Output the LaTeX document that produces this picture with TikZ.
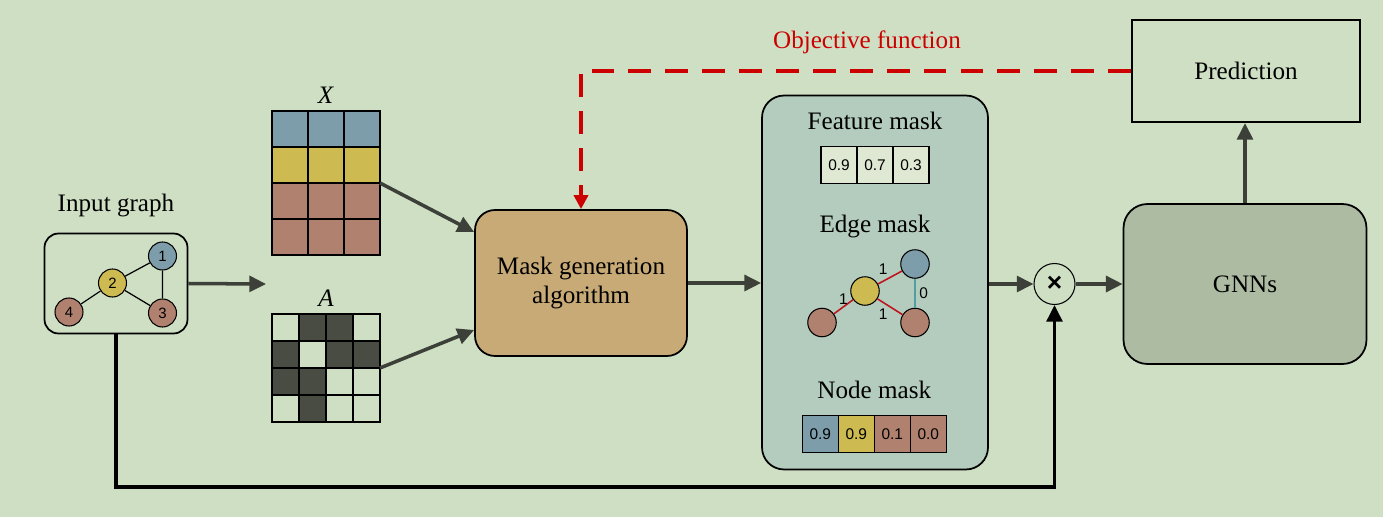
\documentclass[tikz,border=0pt]{standalone}
\usepackage{fontspec}
\setmainfont{Liberation Serif}
\setsansfont{Liberation Sans}
\usepackage{tikz}
\usetikzlibrary{positioning,arrows.meta,calc}
\usepackage{xcolor}

\definecolor{bgGreen}{RGB}{206,223,196}
\definecolor{panelGreen}{RGB}{180,204,189}
\definecolor{genTan}{RGB}{200,170,118}
\definecolor{gnnGreen}{RGB}{173,187,163}
\definecolor{nodeBlue}{RGB}{125,157,170}
\definecolor{nodeYellow}{RGB}{205,186,80}
\definecolor{nodeBrown}{RGB}{176,129,111}
\definecolor{cellDark}{RGB}{72,76,66}
\definecolor{featCell}{RGB}{222,232,210}
\definecolor{arrowGray}{RGB}{60,64,56}
\definecolor{objRed}{RGB}{204,0,0}
\definecolor{edgeRed}{RGB}{190,20,30}
\definecolor{edgeTeal}{RGB}{80,160,160}

\begin{document}
\begin{tikzpicture}[
  x=0.02cm, y=-0.02cm,
  flow/.style={draw=arrowGray, line width=2pt, -{Triangle[length=9.5pt,width=9pt]}},
  loopline/.style={draw=black, line width=1.9pt, -{Triangle[length=9.5pt,width=9pt]}},
  objline/.style={draw=objRed, line width=2pt, dash pattern=on 13pt off 8pt,
                  -{Triangle[length=8pt,width=8pt]}},
  title/.style={inner sep=0pt, font=\fontsize{14.3}{17}\selectfont},
  bigbox/.style={draw, line width=1pt, align=center, font=\fontsize{14.3}{17}\selectfont},
  gnode/.style={circle, draw, line width=0.6pt, minimum size=0.56cm, inner sep=0pt,
                font=\sffamily\fontsize{8.5}{10}\selectfont},
  maskcell/.style={draw, line width=0.6pt, outer sep=0pt, inner sep=0pt,
                   minimum width=0.72cm, minimum height=0.73cm,
                   font=\sffamily\fontsize{8.8}{10}\selectfont},
  elabel/.style={inner sep=1pt, text=black, font=\sffamily\fontsize{8.8}{10}\selectfont},
]
  \fill[bgGreen] (0,0) rectangle (1383,517);
  \useasboundingbox (0,0) rectangle (1383,517);

  % Input graph
  \node[draw, line width=1pt, rounded corners=0.28cm, minimum width=2.86cm,
        minimum height=2cm] (inbox) at (116,283.5) {};
  \node[title, above=0.3cm of inbox] {Input graph};
  \node[gnode, fill=nodeBlue]   (g1) at (162.5,256) {1};
  \node[gnode, fill=nodeYellow] (g2) at (112.5,283) {2};
  \node[gnode, fill=nodeBrown]  (g3) at (162.5,313) {3};
  \node[gnode, fill=nodeBrown]  (g4) at (69,312) {4};
  \draw[line width=0.7pt] (g1) -- (g2) (g2) -- (g4) (g2) -- (g3) (g1) -- (g3);

  % Feature matrix X and adjacency A
  \node[minimum width=2.16cm, minimum height=2.88cm, inner sep=0pt, outer sep=0pt] (Xm) at (326,183) {};
  \foreach \c [count=\r from 0] in {nodeBlue,nodeYellow,nodeBrown,nodeBrown}
    \foreach \k in {0,1,2}
      \draw[fill=\c, line width=0.6pt] (272+36*\k,111+36*\r) rectangle ++(36,36);
  \node[title, above=0.14cm of Xm] {\textit{X}};

  \node[minimum width=2.16cm, minimum height=2.16cm, inner sep=0pt, outer sep=0pt] (Am) at (326,368) {};
  \foreach \r in {0,...,3}
    \foreach \k in {0,...,3}
      \draw[fill=bgGreen, line width=0.6pt] (272+27*\k,314+27*\r) rectangle ++(27,27);
  \foreach \k/\r in {1/0,2/0,0/1,2/1,3/1,0/2,1/2,1/3}
    \draw[fill=cellDark, line width=0.6pt] (272+27*\k,314+27*\r) rectangle ++(27,27);
  \node[title, above=0.14cm of Am] {\textit{A}};

  % Mask generation
  \node[bigbox, fill=genTan, rounded corners=0.4cm, minimum width=4.24cm,
        minimum height=2.92cm] (gen) at (581,283) {Mask generation\\algorithm};

  % Mask panel
  \node[draw, line width=1pt, fill=panelGreen, rounded corners=0.44cm,
        minimum width=4.52cm, minimum height=7.48cm] (panel) at (875,282.5) {};

  \node[maskcell, fill=featCell] (f2) at (875,165) {0.7};
  \node[maskcell, fill=featCell, left=0pt of f2]  (f1) {0.9};
  \node[maskcell, fill=featCell, right=0pt of f2] (f3) {0.3};
  \node[title, above=0.33cm of f2] {Feature mask};

  \node[title] at (875,226) {Edge mask};
  \node[gnode, minimum size=0.57cm, fill=nodeBlue]   (e1) at (915,264) {};
  \node[gnode, minimum size=0.57cm, fill=nodeYellow] (e2) at (865,291) {};
  \node[gnode, minimum size=0.57cm, fill=nodeBrown]  (e3) at (915,322.5) {};
  \node[gnode, minimum size=0.57cm, fill=nodeBrown]  (e4) at (822,322.5) {};
  \draw[edgeRed, line width=0.9pt] (e2) -- node[elabel, above left=0pt] {1} (e1);
  \draw[edgeRed, line width=0.9pt] (e2) -- node[elabel, above=0pt] {1} (e4);
  \draw[edgeRed, line width=0.9pt] (e2) -- node[elabel, below left=0pt] {1} (e3);
  \draw[edgeTeal, line width=0.9pt] (e1) -- node[elabel, right=1pt] {0} (e3);

  \node[maskcell, fill=nodeBlue] (n1) at (820.3,434) {0.9};
  \node[maskcell, fill=nodeYellow, right=0pt of n1] (n2) {0.9};
  \node[maskcell, fill=nodeBrown,  right=0pt of n2] (n3) {0.1};
  \node[maskcell, fill=nodeBrown,  right=0pt of n3] (n4) {0.0};
  \node[title, above=0.33cm of n2.north east] {Node mask};

  % Combination, GNNs, prediction
  \node[circle, draw, line width=0.6pt, minimum size=0.82cm, inner sep=0pt,
        font=\sffamily\bfseries\fontsize{15}{15}\selectfont] (mult) at (1054.5,284) {×};
  \node[bigbox, fill=gnnGreen, rounded corners=0.48cm, minimum width=4.86cm,
        minimum height=3.2cm] (gnn) at (1245,284) {GNNs};
  \node[bigbox, line width=1.2pt, minimum width=4.56cm, minimum height=2.04cm] (pred) at (1246,71) {Prediction};

  % Connectors
  \coordinate (split) at (266,284);
  \coordinate (loopbase) at (585,487);
  \draw[flow] (inbox.east) -- (split);
  \draw[flow] (Xm.east) -- ($(gen.west)+(0,-51)$);
  \draw[flow] (Am.east) -- ($(gen.west)+(0,47)$);
  \draw[flow] (gen.east) -- (gen.east -| panel.west);
  \draw[flow] (mult.west -| panel.east) -- (mult.west);
  \draw[flow] (mult.east) -- (gnn.west);
  \draw[flow] (gnn.north) -- (gnn.north |- pred.south);
  \draw[loopline] (inbox.south) |- (loopbase) -| (mult.south);
  \draw[objline] (pred.west) -| node[pos=0.24, title, text=objRed, above=0.31cm] {Objective function} (gen.north);
\end{tikzpicture}
\end{document}
